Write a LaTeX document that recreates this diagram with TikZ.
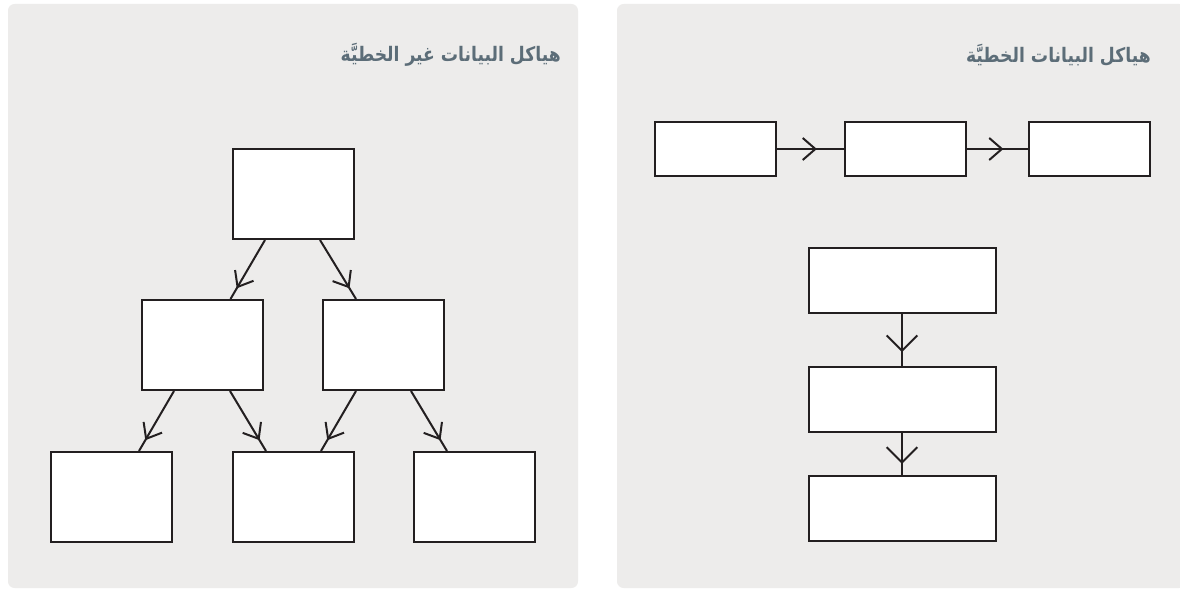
\documentclass[tikz,border=0pt]{standalone}
\usepackage{fontspec}
\newfontfamily\arabicfont[Script=Arabic]{DejaVu Sans}
\TeXXeTstate=1
\usetikzlibrary{arrows.meta,decorations.markings,calc}
\definecolor{panelbg}{HTML}{EDECEB}
\definecolor{titlecol}{HTML}{5C6D78}
\definecolor{linecol}{HTML}{231F20}
\tikzset{
  panel/.style={fill=panelbg, draw=none, rounded corners=5pt},
  title/.style={anchor=east, text=titlecol, font=\arabicfont\bfseries\fontsize{15pt}{17pt}\selectfont, inner sep=0pt, xscale=0.86, transform shape},
  box/.style={draw=linecol, fill=white, line width=1.5pt, inner sep=0pt},
  hbox/.style={box, minimum width=90.75pt, minimum height=40.5pt},
  vbox/.style={box, minimum width=140.25pt, minimum height=48.75pt},
  tbox/.style={box, minimum width=90.75pt, minimum height=67.5pt},
  conn/.style={draw=linecol, line width=1.5pt},
  midarrowh/.style={postaction={decorate}, decoration={markings, mark=at position #1 with {\arrow{Straight Barb[length=9.5pt,width=16.5pt,line width=1.5pt]}}}},
  midarrowd/.style={postaction={decorate}, decoration={markings, mark=at position #1 with {\arrow{Straight Barb[length=10pt,width=16pt,line width=1.5pt]}}}},
  midarrowv/.style={postaction={decorate}, decoration={markings, mark=at position #1 with {\arrow{Straight Barb[length=11.5pt,width=23pt,line width=1.5pt]}}}},
}
\begin{document}
\begin{tikzpicture}[x=0.75pt,y=-0.75pt]
\useasboundingbox (0,0) rectangle (1180,591);
\fill[white] (0,0) rectangle (1180,591);
% panels
\fill[panel] (8,4) rectangle (578,588);
\fill[panel] (617,4) rectangle (1186,588);
% titles
\node[title] (tl) at (561,55) {\beginR هياكل البيانات غير الخطيَّة\endR};
\node[title] (tr) at (1151,55) {\beginR هياكل البيانات الخطيَّة\endR};
% right panel: linear
\node[hbox] (h1) at (715.5,149) {};
\node[hbox] (h2) at (905,149) {};
\node[hbox] (h3) at (1089.5,149) {};
\node[vbox] (v1) at (902,280.5) {};
\node[vbox] (v2) at (902,399) {};
\node[vbox] (v3) at (902,508.5) {};
\draw[conn, midarrowh=0.6] (h1.east) -- (h2.west);
\draw[conn, midarrowh=0.6] (h2.east) -- (h3.west);
\draw[conn, midarrowv=0.74] (v1.south) -- (v2.north);
\draw[conn, midarrowv=0.74] (v2.south) -- (v3.north);
% left panel: tree
\node[tbox] (t) at (293,194) {};
\node[tbox] (ml) at (202.5,345) {};
\node[tbox] (mr) at (383.5,345) {};
\node[tbox] (bl) at (111.5,497) {};
\node[tbox] (bm) at (293,497) {};
\node[tbox] (br) at (474.5,497) {};
\draw[conn, midarrowd=0.82] ($(t.south)+(-28,0)$) -- ($(ml.north)+(28,0)$);
\draw[conn, midarrowd=0.82] ($(t.south)+(27,0)$) -- ($(mr.north)+(-27.5,0)$);
\draw[conn, midarrowd=0.82] ($(ml.south)+(-28.5,0)$) -- ($(bl.north)+(27.5,0)$);
\draw[conn, midarrowd=0.82] ($(ml.south)+(27.5,0)$) -- ($(bm.north)+(-27,0)$);
\draw[conn, midarrowd=0.82] ($(mr.south)+(-27.5,0)$) -- ($(bm.north)+(28,0)$);
\draw[conn, midarrowd=0.82] ($(mr.south)+(27.5,0)$) -- ($(br.north)+(-27.5,0)$);
\end{tikzpicture}
\end{document}
